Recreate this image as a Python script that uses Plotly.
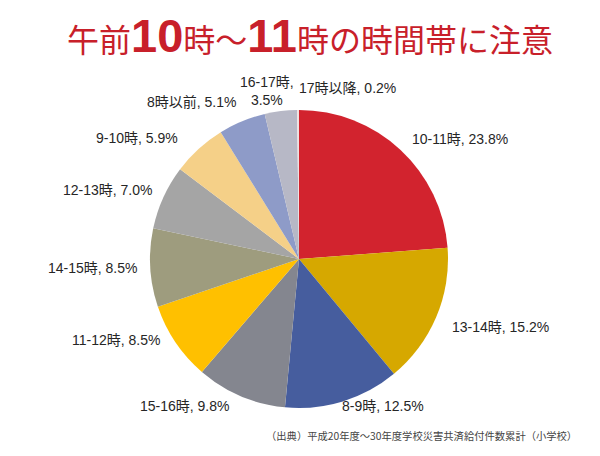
import math
import plotly.graph_objects as go

# ---- data ----
categories = ["10-11時", "13-14時", "8-9時", "15-16時", "11-12時", "14-15時",
              "12-13時", "9-10時", "8時以前", "16-17時", "17時以降"]
shares = [23.8, 15.2, 12.5, 9.8, 8.5, 8.5, 7.0, 5.9, 5.1, 3.5, 0.2]
title_parts = ["午前", "10", "時～", "11", "時の時間帯に注意"]
source_text = "（出典）平成20年度～30年度学校災害共済給付件数累計（小学校）"

# ---- style ----
colors = ["#D2232E", "#D6A800", "#465D9E", "#84868F", "#FFC000", "#9E9C7E",
          "#A5A5A5", "#F5D088", "#8E9BC8", "#B7B8C6", "#EFE0E0"]
OFF = 8                      # browser default body margin
W, H = 600 - 2 * OFF, 456 - 2 * OFF
cx, cy, R = 299, 259, 149    # pie centre / radius in window pixels
label_gap = 10
# per-label pixel nudges (dx, dy) relative to the angle-derived anchor
nudges = [(3, -3), (5, 6), (-6, -5), (-5, 1), (-5, -8), (0, 0),
          (1, -3), (-12, -3), (0, -10), (16, -10), (49, -12)]
label_font = dict(family="Liberation Sans, Arial, Noto Sans CJK JP", size=14, color="#262626")


def fx(X):
    return (X - OFF) / W


def fy(Y):
    return 1 - (Y - OFF) / H


fig = go.Figure()
fig.add_trace(go.Pie(
    labels=categories,
    values=shares,
    sort=False,
    direction="clockwise",
    rotation=0,
    marker=dict(colors=colors, line=dict(width=0)),
    textinfo="none",
    hoverinfo="label+value",
    showlegend=False,
    domain=dict(x=[fx(cx - R), fx(cx + R)], y=[fy(cy + R), fy(cy - R)]),
))

total = sum(shares)
cum = 0.0
for i, (cat, v) in enumerate(zip(categories, shares)):
    mid = (cum + v / 2) / total * 2 * math.pi
    cum += v
    s, c = math.sin(mid), math.cos(mid)
    r = R + label_gap
    px = cx + r * s + nudges[i][0]
    py = cy - r * c + nudges[i][1]
    if s > 0.1:
        xa = "left"
    elif s < -0.1:
        xa = "right"
    else:
        xa = "center"
    if cat == "16-17時":
        txt = f"{cat},<br>{v:.1f}%"
        xa = "right"
    else:
        txt = f"{cat}, {v:.1f}%"
    fig.add_annotation(
        x=fx(px), y=fy(py), xref="paper", yref="paper",
        text=txt, showarrow=False, xanchor=xa, yanchor="middle",
        align="center", font=label_font,
    )

big = "font-family:'Liberation Sans', Arial; font-weight:bold; font-size:47px"
title_html = (f"{title_parts[0]}<span style=\"{big}\">{title_parts[1]}</span>"
              f"{title_parts[2]}<span style=\"{big}\">{title_parts[3]}</span>{title_parts[4]}")
fig.add_annotation(
    x=fx(310), y=fy(35), xref="paper", yref="paper", text=title_html,
    showarrow=False, xanchor="center", yanchor="middle",
    font=dict(family="Noto Sans CJK JP", size=32, color="#C8202A"),
)
fig.add_annotation(
    x=fx(422), y=fy(435), xref="paper", yref="paper", text=source_text,
    showarrow=False, xanchor="center", yanchor="middle",
    font=dict(family="Noto Sans CJK JP", size=10.3, color="#444444"),
)

fig.update_layout(
    width=W, height=H,
    margin=dict(l=0, r=0, t=0, b=0),
    paper_bgcolor="white", plot_bgcolor="white",
)
fig.write_html("out.html")
